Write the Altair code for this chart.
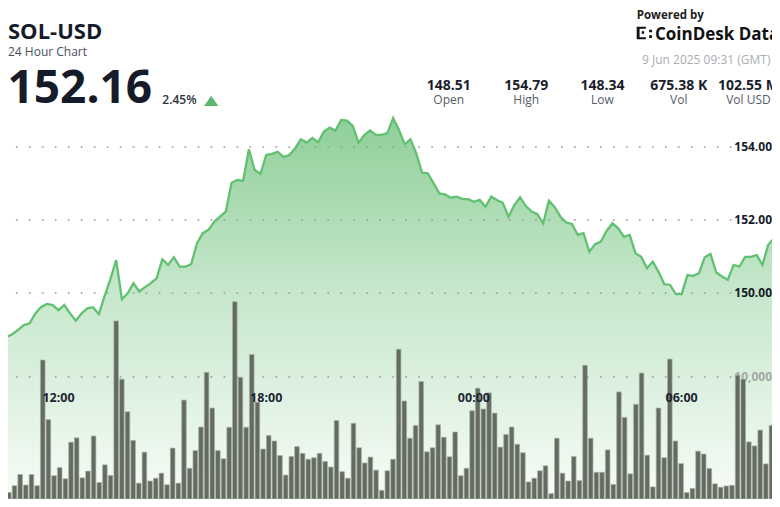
import altair as alt
import pandas as pd

# ---------------- data ----------------
price_start = "2025-06-08 10:20"
prices = [
    148.44, 148.80, 148.87, 148.99, 149.12, 149.17, 149.44, 149.62, 149.70, 149.67,
    149.53, 149.67, 149.44, 149.24, 149.44, 149.58, 149.61, 149.42, 149.92, 150.38,
    150.90, 149.83, 149.99, 150.27, 150.04, 150.16, 150.27, 150.40, 150.92, 150.77,
    150.98, 150.72, 150.72, 150.79, 151.36, 151.64, 151.73, 151.95, 152.09, 152.23,
    153.02, 153.10, 153.07, 153.94, 153.37, 153.26, 153.78, 153.81, 153.87, 153.73,
    153.78, 153.96, 154.21, 154.12, 154.25, 154.13, 154.42, 154.53, 154.45, 154.74,
    154.72, 154.58, 154.12, 154.33, 154.45, 154.33, 154.33, 154.38, 154.79, 154.47,
    154.08, 154.21, 153.83, 153.30, 153.28, 153.01, 152.73, 152.70, 152.61, 152.64,
    152.58, 152.57, 152.50, 152.55, 152.36, 152.64, 152.55, 152.47, 152.09, 152.41,
    152.62, 152.38, 152.23, 152.16, 151.91, 152.53, 152.35, 152.09, 151.93, 151.89,
    151.59, 151.64, 151.13, 151.34, 151.41, 151.70, 151.91, 151.77, 151.54, 151.59,
    151.09, 150.99, 150.68, 150.86, 150.58, 150.24, 150.22, 149.97, 149.97, 150.49,
    150.47, 150.54, 150.98, 151.07, 150.56, 150.45, 150.36, 150.77, 150.72, 150.99,
    150.99, 151.04, 150.77, 151.32, 151.50, 151.91,
]

vol_start = "2025-06-08 10:20"
volumes = [
    534, 1091, 2007, 1145, 2007, 1091, 11392, 6508, 1908, 2571,
    1656, 4654, 5013, 1732, 2289, 5166, 1351, 2800, 1930, 14596,
    9820, 7149, 4807, 1297, 3838, 1473, 1701, 2114, 1167, 4174,
    1297, 8111, 2518, 3968, 5898, 10377, 7455, 3968, 3304, 5875,
    16176, 9972, 5875, 11849, 7935, 4097, 5211, 4753, 3563, 1961,
    3487, 4296, 3739, 3258, 3380, 3739, 3075, 2617, 6432, 2236,
    1701, 6203, 4197, 2953, 3434, 2365, 710, 2312, 3258, 12284,
    8034, 4982, 6028, 9637, 3868, 4197, 6081, 5059, 3456, 5494,
    1908, 2518, 7226, 9080, 7378, 8698, 7042, 4250, 5288, 5898,
    4479, 3792, 1396, 1701, 2312, 2724, 435, 4982, 2114, 1473,
    3487, 1503, 10964, 4982, 2190, 2190, 4021, 1198, 8775, 6692,
    2060, 7760, 10323, 3586, 992, 7455, 3380, 11468, 4753, 2899,
    534, 862, 3914, 3685, 2495, 1244, 969, 1068, 1122, 10148,
    9820, 4677, 4349, 5646, 2877, 6028,
]

price_ticks = [150, 152, 154]
price_tick_labels = ["150.00", "152.00", "154.00"]
vol_ticks = [10000]
vol_tick_labels = ["10,000"]
time_ticks = ["2025-06-08 12:00", "2025-06-08 18:00", "2025-06-09 00:00", "2025-06-09 06:00"]
time_tick_labels = ["12:00", "18:00", "00:00", "06:00"]

symbol = "SOL-USD"
subtitle = "24 Hour Chart"
last_price = "152.16"
change = "2.45%"
stat_values = ["148.51", "154.79", "148.34", "675.38 K", "102.55 M"]
stat_labels = ["Open", "High", "Low", "Vol", "Vol USD"]
powered = "Powered by"
brand = "CoinDesk Data"
stamp = "9 Jun 2025 09:31 (GMT)"

# ---------------- tables ----------------
price_df = pd.DataFrame({
    "time": pd.date_range(price_start, periods=len(prices), freq="10min"),
    "price": prices,
})
vol_df = pd.DataFrame({
    "time": pd.date_range(vol_start, periods=len(volumes), freq="10min"),
    "volume": volumes,
})
ptick_df = pd.DataFrame({"v": price_ticks, "label": price_tick_labels})
vtick_df = pd.DataFrame({"v": vol_ticks, "label": vol_tick_labels})
ttick_df = pd.DataFrame({"time": pd.to_datetime(time_ticks), "label": time_tick_labels})
one = pd.DataFrame({"k": [0]})

# ---------------- layout ----------------
W, H = 764, 491
FONT = "Open Sans"
DARK = "#161b29"

px = alt.Scale(
    domain=[alt.DateTime(year=2025, month=6, date=8, hours=10, minutes=32, seconds=31),
            alt.DateTime(year=2025, month=6, date=9, hours=8, minutes=36, seconds=36)],
    nice=False)
bx = alt.Scale(
    domain=[alt.DateTime(year=2025, month=6, date=8, hours=10, minutes=27, seconds=20),
            alt.DateTime(year=2025, month=6, date=9, hours=8, minutes=42, seconds=4)],
    nice=False)
PMIN, PMAX = 144.356, 157.808
py = alt.Scale(domain=[PMIN, PMAX], zero=False, nice=False)
vy = alt.Scale(domain=[0, 40246], nice=False)

grad = alt.Gradient(
    gradient="linear",
    stops=[alt.GradientStop(color="#8fcf9a", offset=0),
           alt.GradientStop(color="#c6e7cb", offset=0.45),
           alt.GradientStop(color="#f7fcf7", offset=1)],
    x1=1, x2=1, y1=0, y2=1)

area = alt.Chart(price_df).mark_area(clip=True, color=grad).encode(
    x=alt.X("time:T", scale=px, axis=None),
    y=alt.Y("price:Q", scale=py, axis=None),
    y2=alt.datum(PMIN),
)

line = alt.Chart(price_df).mark_line(clip=True, color="#62c171", strokeWidth=2.3).encode(
    x=alt.X("time:T", scale=px, axis=None),
    y=alt.Y("price:Q", scale=py, axis=None),
)

dot_style = dict(strokeDash=[1.7, 11.28], strokeDashOffset=5.1, color="#9a9a9a", strokeWidth=1.7)

grid_price = alt.Chart(ptick_df).mark_rule(**dot_style).encode(
    y=alt.Y("v:Q", scale=py, axis=None),
    x=alt.value(0), x2=alt.value(724),
)
grid_vol = alt.Chart(vtick_df).mark_rule(**dot_style).encode(
    y=alt.Y("v:Q", scale=vy, axis=None),
    x=alt.value(0), x2=alt.value(728),
)
vol_label = alt.Chart(vtick_df).mark_text(
    align="right", baseline="middle", font=FONT, fontSize=12, fontWeight="bold", color="#a3a8a3"
).encode(
    y=alt.Y("v:Q", scale=vy, axis=None), x=alt.value(764), text="label:N",
)

bars = alt.Chart(vol_df).mark_bar(
    size=4.6, color="#646c61", stroke="#a8afa6", strokeWidth=0.7, clip=True
).encode(
    x=alt.X("time:T", scale=bx, axis=None),
    y=alt.Y("volume:Q", scale=vy, axis=None),
)

price_labels = alt.Chart(ptick_df).mark_text(
    align="right", baseline="middle", font=FONT, fontSize=12, fontWeight="bold", color=DARK
).encode(
    y=alt.Y("v:Q", scale=py, axis=None), x=alt.value(764), text="label:N",
)

time_labels = alt.Chart(ttick_df).mark_text(
    align="center", baseline="middle", font=FONT, fontSize=12.5, fontWeight="bold", color="#1e2433"
).encode(
    x=alt.X("time:T", scale=px, axis=None), y=alt.value(390), text="label:N",
)


def txt(s, x, y, size, weight="normal", color=DARK, align="left"):
    return alt.Chart(one).mark_text(
        text=s, align=align, baseline="alphabetic", font=FONT, fontSize=size,
        fontWeight=weight, color=color
    ).encode(x=alt.value(x), y=alt.value(y))


header = [
    txt(symbol, 0, 31.3, 22, "bold"),
    txt(subtitle, 0, 47.5, 12, "normal", "#4a4f5a"),
    txt(last_price, -0.5, 94.7, 46, "bold"),
    txt(change, 154.3, 96, 12, 600, "#2d3240"),
    txt(powered, 628.7, 10.8, 11.5, "bold", "#222222"),
    txt(brand, 647, 32, 17, "bold", "#111111"),
    txt(stamp, 634, 56, 12, "normal", "#a9adb4"),
]
stat_x = [440.7, 518.2, 594.5, 670.8, 740.5]
for sx, sv, sl in zip(stat_x, stat_values, stat_labels):
    header.append(txt(sv, sx, 82, 14, "bold", "#1a1e2c", "center"))
    header.append(txt(sl, sx, 96, 12, "normal", "#555b66", "center"))

triangle = alt.Chart(one).mark_point(
    shape="M0,-0.72L1,0.72L-1,0.72Z", size=204, filled=True, color="#5cb86c", opacity=1, strokeWidth=0
).encode(x=alt.value(203.2), y=alt.value(92.8))

logo = alt.Chart(one).mark_point(
    shape=("M-1,-0.75H0.1V-0.5H-0.65V0.5H0.1V0.75H-1Z"
           "M-0.4,-0.22H-0.1V0.08H-0.4Z"
           "M0.5,-0.4H0.85V-0.08H0.5Z M0.5,0.28H0.85V0.6H0.5Z"),
    size=276, filled=True, color="#111111", opacity=1, strokeWidth=0
).encode(x=alt.value(637), y=alt.value(25))

chart = alt.layer(
    area, grid_price, grid_vol, vol_label, bars, line, price_labels, time_labels,
    *header, triangle, logo
).resolve_scale(
    x="independent", y="independent"
).properties(
    width=W, height=H, autosize="none", padding=0, background="white"
).configure_view(stroke=None)

chart.save("out.html", embed_options={"renderer": "svg", "actions": False})
